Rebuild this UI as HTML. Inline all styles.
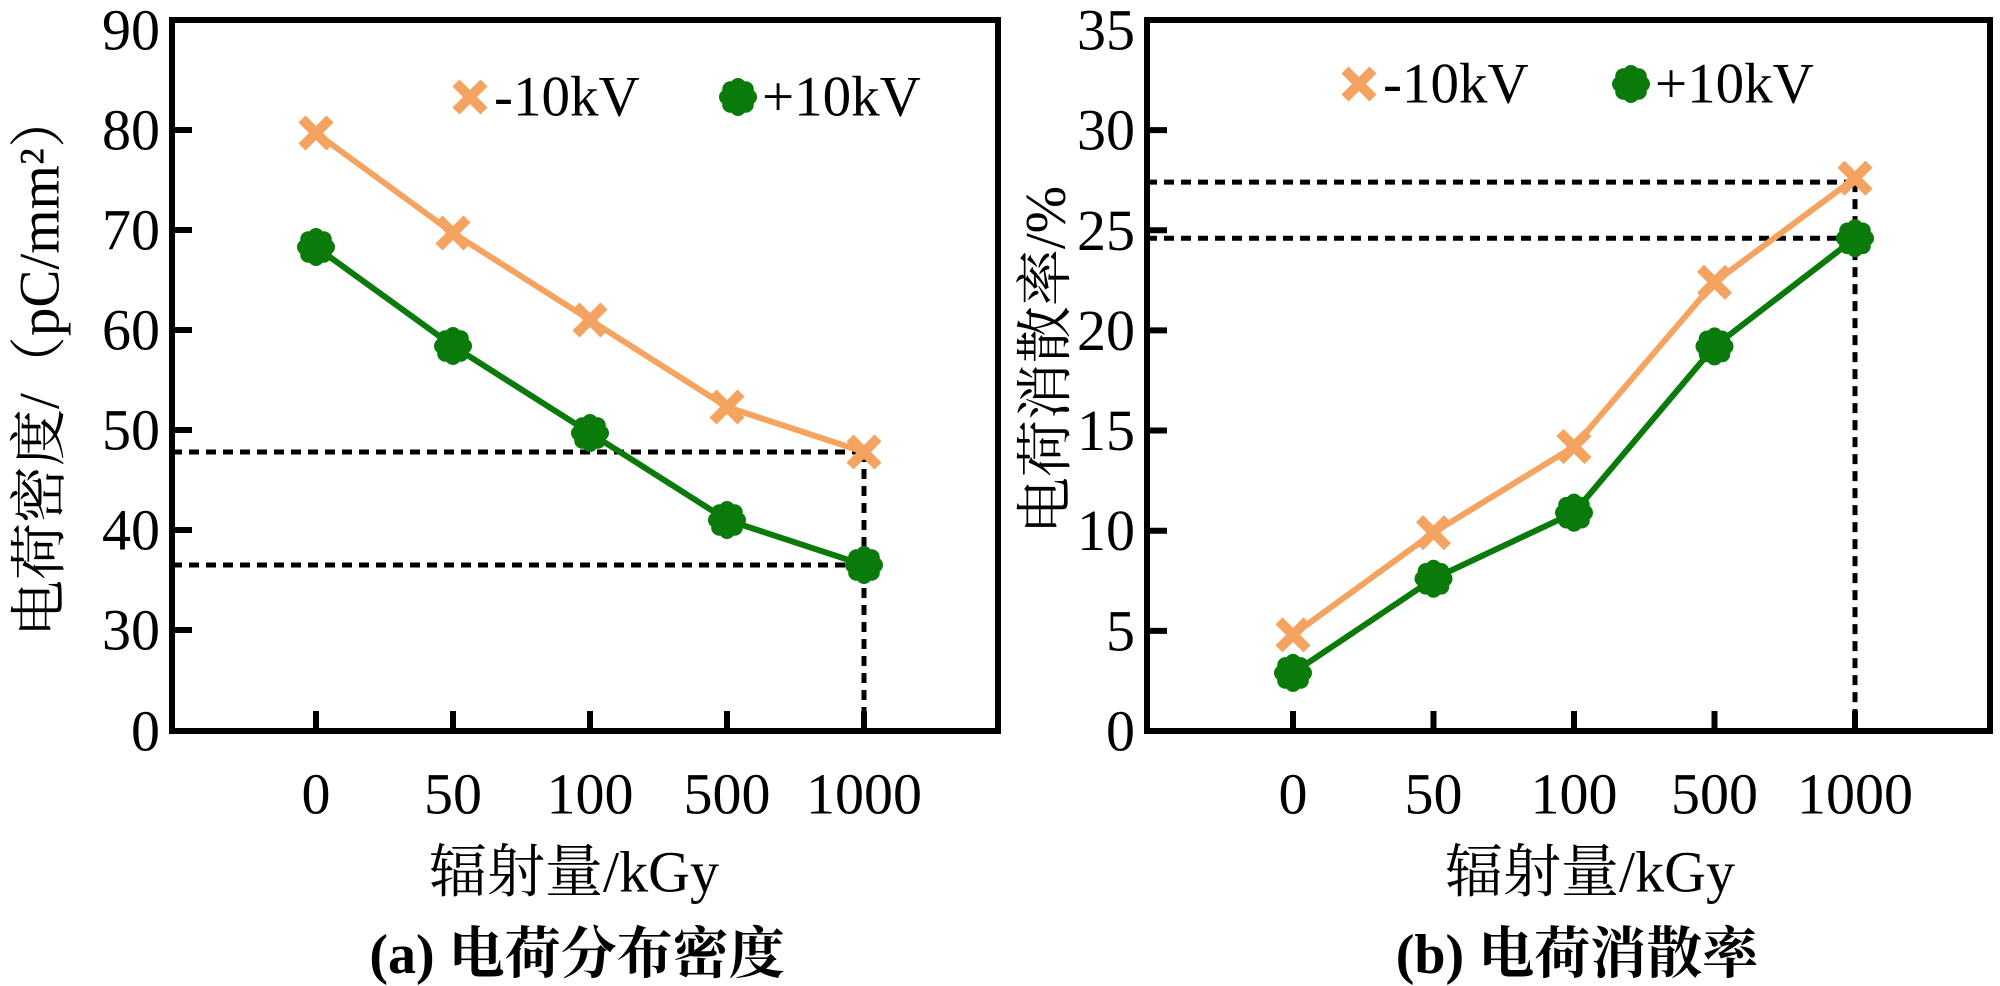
<!DOCTYPE html>
<html><head><meta charset="utf-8"><style>
body{margin:0;background:#fff;}
svg{display:block;font-family:"Liberation Serif","Noto Serif CJK SC",serif;}
</style></head><body>
<svg id="c" width="2000" height="986" viewBox="0 0 2000 986"></svg>
<script>
const categories=["0","50","100","500","1000"];
const seriesNames=["-10kV","+10kV"];
const densityNeg=[79.7,69.7,61,52.3,47.8];
const densityPos=[68.3,58.4,49.7,41,36.5];
const dissNeg=[4.8,9.9,14.2,22.4,27.6];
const dissPos=[2.9,7.6,10.9,19.2,24.6];
const leftTicks=[0,30,40,50,60,70,80,90];
const rightTicks=[0,5,10,15,20,25,30,35];
const NS="http://www.w3.org/2000/svg";
const svg=document.getElementById('c');
function mk(tag,attrs,parent){const e=document.createElementNS(NS,tag);for(const k in attrs)e.setAttribute(k,attrs[k]);(parent||svg).appendChild(e);return e;}
function txt(s,x,y,size,parent,extra){const t=mk('text',Object.assign({x:x,y:y,'font-size':size,'text-anchor':'middle','dominant-baseline':'central',fill:'#000'},extra||{}),parent);t.textContent=s;return t;}
function xMarker(g,x,y){const p=mk('path',{d:`M${x-14} ${y-14}L${x+14} ${y+14}M${x-14} ${y+14}L${x+14} ${y-14}`,stroke:'#F4A460',"stroke-width":10,fill:'none'},g);return p;}
function gMarker(g,x,y){const gg=mk('g',{},g);mk('circle',{cx:x,cy:y,r:16,fill:'#0a7a0a'},gg);for(let i=0;i<8;i++){const a=i*Math.PI/4;mk('circle',{cx:x+Math.cos(a)*11,cy:y+Math.sin(a)*11,r:8,fill:'#0a7a0a'},gg);}return gg;}
function chart(cfg){
 const g=mk('g',{});
 
 
 const {L,R,T,B}=cfg;
 const xs=i=>cfg.x0+i*cfg.dx;
 const y=cfg.y;
 cfg.guides.forEach(v=>{const l=mk('line',{x1:L,x2:xs(4),y1:y(v),y2:y(v),stroke:'#000','stroke-width':5,'stroke-dasharray':'10 7'},g);});
 const vl=mk('line',{x1:xs(4),x2:xs(4),y1:y(cfg.guides[0]),y2:B,stroke:'#000','stroke-width':5,'stroke-dasharray':'10 7'},g);
 
 
 const fr=mk('rect',{x:L,y:T,width:R-L,height:B-T,fill:'none',stroke:'#000','stroke-width':6},g);
 
 
 cfg.ticks.forEach(v=>{if(v!==cfg.ticks[cfg.ticks.length-1])mk('line',{x1:L,x2:L+20,y1:y(v),y2:y(v),stroke:'#000','stroke-width':6},g);const t=txt(String(v),L-12,y(v),58,g,{'text-anchor':'end'});});
 categories.forEach((c,i)=>{mk('line',{x1:xs(i),x2:xs(i),y1:B,y2:B-20,stroke:'#000','stroke-width':6},g);const t=txt(c,xs(i),794,58,g);});
 [[cfg.pos,'#0a7a0a',gMarker,'series-plus10kv'],[cfg.neg,'#F4A460',xMarker,'series-minus10kv']].forEach(([d,col,m,nm])=>{
  const s=mk('g',{},g);
  
  
  mk('polyline',{points:d.map((v,i)=>xs(i)+','+y(v)).join(' '),fill:'none',stroke:col,'stroke-width':6},s);
  d.forEach((v,i)=>m(s,xs(i),y(v)));
 });
 const lg=mk('g',{},g);
 
 
 xMarker(lg,cfg.leg[0],cfg.leg[2]);
 txt(seriesNames[0],cfg.leg[0]+24,cfg.leg[2],57,lg,{'text-anchor':'start'});
 gMarker(lg,cfg.leg[1],cfg.leg[2]);
 txt(seriesNames[1],cfg.leg[1]+24,cfg.leg[2],57,lg,{'text-anchor':'start'});
 const xt=txt('辐射量/kGy',cfg.xtx,872,58,g);
 
 
 const yt=txt(cfg.ytitle,0,0,57,g,{transform:`translate(${cfg.ytx},${cfg.yty}) rotate(-90)`});
 
 
 const cap=txt(cfg.cap,cfg.capx,955,56,g,{'font-weight':'bold'});
 
 
}
chart({name:'chart-charge-density',L:172,R:998,T:20,B:731,x0:316,dx:137,
 y:v=>v<30?731-(v/30)*101:630-(v-30)*10,ticks:leftTicks,neg:densityNeg,pos:densityPos,guides:[densityNeg[4],densityPos[4]],
 leg:[470,738,97],xtx:574,ytx:40,yty:364,ytitle:'电荷密度/（pC/mm²）',cap:'(a) 电荷分布密度',capx:577});
chart({name:'chart-dissipation-rate',L:1147,R:1990,T:20,B:731,x0:1293,dx:140.5,
 y:v=>731-v*20.03,ticks:rightTicks,neg:dissNeg,pos:dissPos,guides:[27.4,dissPos[4]],
 leg:[1359,1631,84],xtx:1590,ytx:1046,yty:360,ytitle:'电荷消散率/%',cap:'(b) 电荷消散率',capx:1577});
</script>
</body></html>
